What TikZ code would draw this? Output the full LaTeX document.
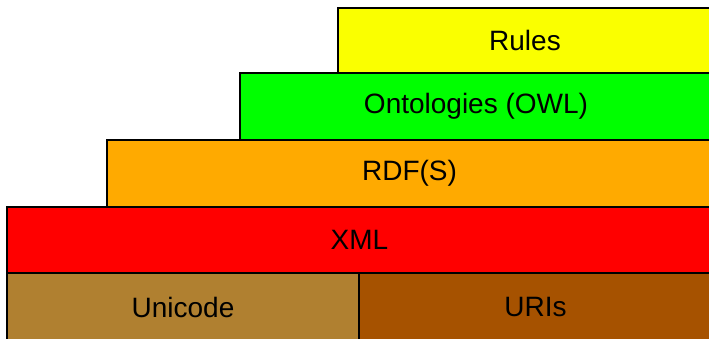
\documentclass[tikz,border=0pt]{standalone}
\usepackage{fontspec}
\setmainfont{Liberation Sans}
\definecolor{rulesyellow}{RGB}{250,255,0}
\definecolor{owlgreen}{RGB}{0,255,0}
\definecolor{rdforange}{RGB}{255,170,0}
\definecolor{xmlred}{RGB}{255,0,0}
\definecolor{unicodetan}{RGB}{176,128,48}
\definecolor{uribrown}{RGB}{166,82,0}
\tikzset{
  layer/.style={draw=black, line width=2pt, inner sep=0pt, anchor=north west,
    font=\fontsize{28}{32}\selectfont, text=black}
}
\begin{document}
\begin{tikzpicture}[x=1pt,y=-1pt]
  \useasboundingbox (0,0) rectangle (709,338);
  \clip (0,0) rectangle (709,338);
  % stack of layers, top to bottom
  \node (rules) [layer, fill=rulesyellow, minimum width=374pt, minimum height=65.5pt] at (337,6.5) {Rules};
  \node (owl) [layer, fill=owlgreen, minimum width=472pt, minimum height=67pt] at (239,72) {Ontologies (OWL)};
  \node (rdf) [layer, fill=rdforange, minimum width=605pt, minimum height=67pt] at (106,139) {RDF(S)};
  \node (xml) [layer, fill=xmlred, minimum width=705pt, minimum height=66pt] at (6,206) {XML};
  \node (unicode) [layer, fill=unicodetan, minimum width=352pt, minimum height=68pt] at (6,272) {Unicode};
  \node (uris) [layer, fill=uribrown, minimum width=353pt, minimum height=68pt] at (358,272) {URIs};
\end{tikzpicture}
\end{document}
